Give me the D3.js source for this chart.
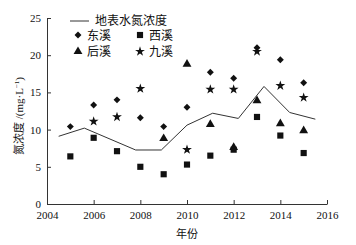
<!DOCTYPE html>
<html>
<head>
<meta charset="utf-8">
<script src="https://cdn.jsdelivr.net/npm/d3@7"></script>
<style>
  body { margin: 0; background: #fff; }
  text { font-family: "Liberation Serif", "Noto Sans CJK SC", serif; fill: #111; }
</style>
</head>
<body>
<div id="chart"></div>
<script>
// data
const years = [2005, 2006, 2007, 2008, 2009, 2010, 2011, 2012, 2013, 2014, 2015];
const dongxi = [10.4, 13.3, 14.0, 11.6, 10.4, 13.0, 17.7, 16.9, 21.0, 19.4, 16.3];
const xixi = [6.4, 8.9, 7.1, 5.0, 4.0, 5.3, 6.5, 7.3, 11.7, 9.2, 6.85];
const houxi = [null, null, null, null, 8.8, 18.8, 10.7, 7.6, 13.9, 10.8, 9.85];
const jiuxi = [null, 11.1, 11.7, 15.5, null, 7.3, 15.4, 15.4, 20.5, 15.9, 14.3];
const lineYears = [2004.5, 2005.6, 2007.8, 2008.9, 2010.0, 2011.1, 2012.2, 2013.3, 2014.4, 2015.5];
const lineValues = [9.1, 10.2, 7.26, 7.26, 10.6, 12.2, 11.5, 15.8, 12.3, 11.4];
const xTicks = [2004, 2006, 2008, 2010, 2012, 2014, 2016];
const yTicks = [0, 5, 10, 15, 20, 25];
const seriesNames = ["东溪", "西溪", "后溪", "九溪"];
const lineName = "地表水氮浓度";

const width = 356, height = 245;
const margin = { left: 47, right: 29, top: 18, bottom: 41 };

const svg = d3.select("#chart").append("svg")
    .attr("width", width)
    .attr("height", height);

const xScale = d3.scaleLinear().domain([2004, 2016]).range([margin.left, width - margin.right]);
const yScale = d3.scaleLinear().domain([0, 25]).range([height - margin.bottom, margin.top]);

// axes, ticks point inward
const xAxis = d3.axisBottom(xScale).tickValues(xTicks).tickFormat(d3.format("d"))
    .tickSizeInner(-4).tickSizeOuter(0).tickPadding(7);
const yAxis = d3.axisLeft(yScale).tickValues(yTicks)
    .tickSizeInner(-4).tickSizeOuter(0).tickPadding(6);

svg.append("g")
    .attr("transform", "translate(0," + yScale(0) + ")")
    .call(xAxis)
    .call(g => g.selectAll("text").style("font-size", "11px"))
    .call(g => g.selectAll("path, line").attr("stroke", "#333"));

svg.append("g")
    .attr("transform", "translate(" + xScale(2004) + ",0)")
    .call(yAxis)
    .call(g => g.selectAll("text").style("font-size", "11px"))
    .call(g => g.selectAll("path, line").attr("stroke", "#333"));

// axis titles
svg.append("text")
    .attr("x", xScale(2010))
    .attr("y", 238)
    .attr("text-anchor", "middle")
    .style("font-size", "11px")
    .text("年份");

const yTitle = svg.append("text")
    .attr("transform", "translate(23,116) rotate(-90)")
    .attr("text-anchor", "middle")
    .style("font-size", "11px");
yTitle.append("tspan").text("氮浓度 /(mg·L");
yTitle.append("tspan").attr("dy", -4).style("font-size", "7px").text("−1");
yTitle.append("tspan").attr("dy", 4).text(")");

// line of total
const line = d3.line()
    .x((d, i) => xScale(lineYears[i]))
    .y(d => yScale(d));

svg.append("path")
    .datum(lineValues)
    .attr("d", line)
    .attr("fill", "none")
    .attr("stroke", "#333")
    .attr("stroke-width", 1);

// marker shapes
const shapes = [
    { data: dongxi, type: d3.symbolSquare, size: 24, rotate: 45 },
    { data: xixi, type: d3.symbolSquare, size: 38, rotate: 0 },
    { data: houxi, type: d3.symbolTriangle, size: 34, rotate: 0 },
    { data: jiuxi, type: d3.symbolStar, size: 30, rotate: 0 }
];

shapes.forEach(s => {
    svg.append("g").selectAll("path")
        .data(years.map((y, i) => ({ year: y, value: s.data[i] })).filter(d => d.value != null))
        .join("path")
        .attr("d", d3.symbol().type(s.type).size(s.size))
        .attr("transform", d => "translate(" + xScale(d.year) + "," + yScale(d.value) + ") rotate(" + s.rotate + ")")
        .attr("fill", "#111");
});

// legend
const legend = svg.append("g");
legend.append("line")
    .attr("x1", 70).attr("x2", 89)
    .attr("y1", 21).attr("y2", 21)
    .attr("stroke", "#333");
legend.append("text")
    .attr("x", 95).attr("y", 25)
    .style("font-size", "12px")
    .text(lineName);

const legendPos = [[78, 35], [140, 35], [78, 51.5], [140, 51.5]];
shapes.forEach((s, i) => {
    const [lx, ly] = legendPos[i];
    legend.append("path")
        .attr("d", d3.symbol().type(s.type).size(s.size)())
        .attr("transform", "translate(" + lx + "," + ly + ") rotate(" + s.rotate + ")")
        .attr("fill", "#111");
    legend.append("text")
        .attr("x", lx + 9).attr("y", ly + 4.5)
        .style("font-size", "12px")
        .text(seriesNames[i]);
});
</script>
</body>
</html>
